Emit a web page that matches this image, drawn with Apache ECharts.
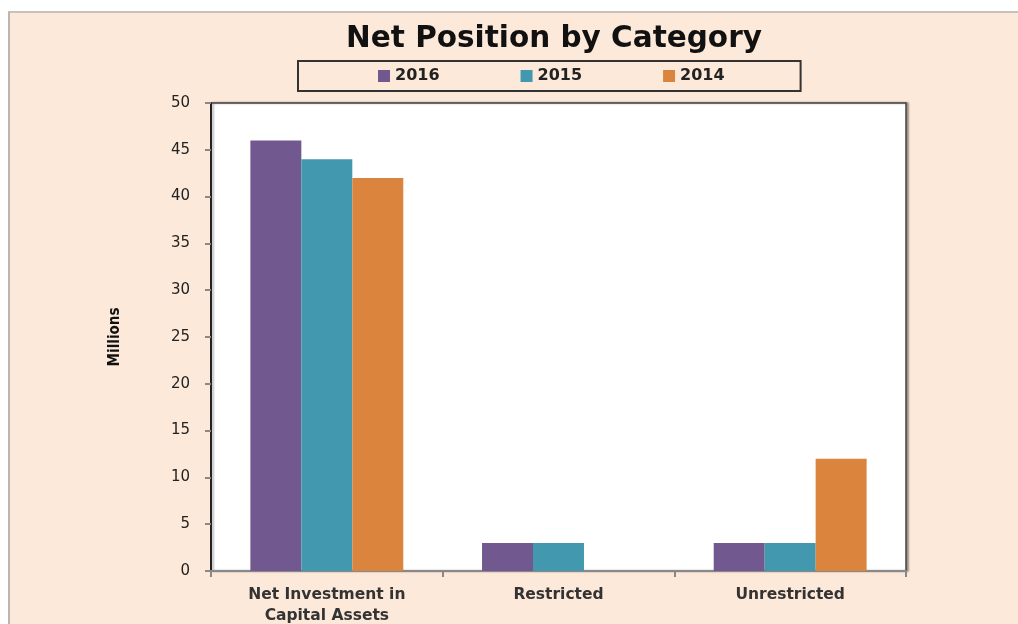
<!DOCTYPE html>
<html>
<head>
<meta charset="utf-8">
<script src="https://cdn.jsdelivr.net/npm/echarts@6/dist/echarts.min.js"></script>
<style>
  html, body { margin: 0; padding: 0; background: #fff; }
  #bg {
    position: absolute; left: 8px; top: 11px; width: 1020px; height: 620px;
    background: #FDE9D9; border-left: 2px solid #bdb5ae; border-top: 2px solid #c8c2bc;
  }
  #main { position: absolute; left: 0; top: 0; width: 1018px; height: 624px; }
</style>
</head>
<body>
<div id="bg"></div>
<div id="main"></div>
<script>
const categories = ['Net Investment in\nCapital Assets', 'Restricted', 'Unrestricted'];
const years = ['2016', '2015', '2014'];
const values2016 = [46, 3, 3];
const values2015 = [44, 3, 3];
const values2014 = [42, 0, 12];
const colors = ['#71588F', '#4198AF', '#DB843D'];

function loadChart() {
  var chartDom = document.getElementById('main');
  var myChart = echarts.init(chartDom);
  var option;

  option = {
    backgroundColor: 'transparent',
    animation: false,
    color: colors,
    title: {
      text: 'Net Position by Category',
      left: 549,
      textAlign: 'center',
      top: 19,
      textStyle: { fontFamily: 'DejaVu Sans', fontWeight: 'bold', fontSize: 29.5, color: '#111' }
    },
    legend: {
      data: years,
      left: 298,
      top: 61,
      padding: [7, 76, 7, 80],
      itemGap: 81,
      itemWidth: 12,
      itemHeight: 12,
      icon: 'rect',
      borderColor: '#333',
      borderWidth: 2,
      backgroundColor: '#FDE9D9',
      textStyle: { fontFamily: 'DejaVu Sans', fontWeight: 'bold', fontSize: 16, color: '#222' }
    },
    grid: {
      left: 211, right: 112, top: 103, bottom: 53,
      outerBoundsMode: 'none',
      show: true, backgroundColor: '#fff', borderColor: '#444', borderWidth: 1.5,
      shadowColor: 'rgba(0,0,0,0.35)', shadowOffsetX: 2, shadowOffsetY: 0, shadowBlur: 2
    },
    xAxis: {
      type: 'category',
      data: categories,
      axisLine: { lineStyle: { color: '#888', width: 2 } },
      axisTick: { show: true, length: 6, lineStyle: { color: '#888', width: 2 } },
      axisLabel: {
        margin: 13, lineHeight: 21,
        fontFamily: 'DejaVu Sans', fontWeight: 'bold', fontSize: 15.5, color: '#333'
      }
    },
    yAxis: {
      type: 'value',
      min: 0, max: 50, interval: 5,
      name: 'Millions',
      nameLocation: 'middle',
      nameGap: 88,
      nameRotate: 90,
      nameTextStyle: {
        fontFamily: "'DejaVu Sans Condensed', 'Liberation Sans', sans-serif",
        fontWeight: 'bold', fontSize: 15, color: '#111'
      },
      axisLine: { show: true, lineStyle: { color: '#222', width: 2 } },
      axisTick: { show: true, length: 6, lineStyle: { color: '#888', width: 2 } },
      splitLine: { show: false },
      axisLabel: { margin: 21, fontFamily: 'DejaVu Sans', fontSize: 15, color: '#222' }
    },
    series: [
      { name: years[0], type: 'bar', data: values2016, barGap: '0%', barCategoryGap: '34%' },
      { name: years[1], type: 'bar', data: values2015 },
      { name: years[2], type: 'bar', data: values2014 }
    ]
  };

  myChart.setOption(option);
}

document.addEventListener('DOMContentLoaded', () => {
  loadChart();
});
</script>
</body>
</html>
